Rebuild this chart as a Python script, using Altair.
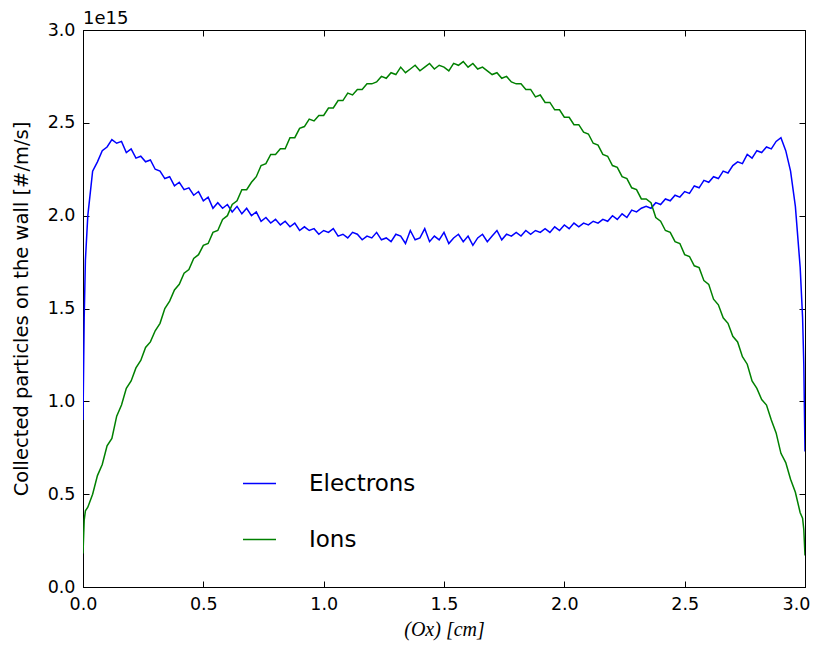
import altair as alt
import pandas as pd

# sampling positions along the wall (cm)
x = [0.0, 0.005, 0.01, 0.02, 0.04, 0.06, 0.08, 0.10, 0.12, 0.14, 0.16, 0.18,
     0.20, 0.22, 0.24, 0.26, 0.28, 0.30, 0.32, 0.34, 0.36, 0.38,
     0.40, 0.42, 0.44, 0.46, 0.48, 0.50, 0.52, 0.54, 0.56, 0.58,
     0.60, 0.62, 0.64, 0.66, 0.68, 0.70, 0.72, 0.74, 0.76, 0.78,
     0.80, 0.82, 0.84, 0.86, 0.88, 0.90, 0.92, 0.94, 0.96, 0.98,
     1.00, 1.02, 1.04, 1.06, 1.08, 1.10, 1.12, 1.14, 1.16, 1.18,
     1.20, 1.22, 1.24, 1.26, 1.28, 1.30, 1.32, 1.34, 1.36, 1.38,
     1.40, 1.42, 1.44, 1.46, 1.48, 1.50, 1.52, 1.54, 1.56, 1.58,
     1.60, 1.62, 1.64, 1.66, 1.68, 1.70, 1.72, 1.74, 1.76, 1.78,
     1.80, 1.82, 1.84, 1.86, 1.88, 1.90, 1.92, 1.94, 1.96, 1.98,
     2.00, 2.02, 2.04, 2.06, 2.08, 2.10, 2.12, 2.14, 2.16, 2.18,
     2.20, 2.22, 2.24, 2.26, 2.28, 2.30, 2.32, 2.34, 2.36, 2.38,
     2.40, 2.42, 2.44, 2.46, 2.48, 2.50, 2.52, 2.54, 2.56, 2.58,
     2.60, 2.62, 2.64, 2.66, 2.68, 2.70, 2.72, 2.74, 2.76, 2.78,
     2.80, 2.82, 2.84, 2.86, 2.88, 2.90, 2.92, 2.94, 2.96, 2.98,
     2.99, 2.995, 3.00]

# collected particles (units of 1e15 #/m/s)
electrons = [0.90, 1.45, 1.76, 2.00, 2.24, 2.29, 2.35, 2.37, 2.41, 2.39, 2.40, 2.34,
             2.36, 2.31, 2.32, 2.29, 2.30, 2.25, 2.24, 2.20, 2.21, 2.16,
             2.18, 2.14, 2.15, 2.11, 2.13, 2.08, 2.10, 2.04, 2.07, 2.04,
             2.06, 2.02, 2.05, 2.01, 2.04, 2.00, 2.02, 1.97, 1.99, 1.96,
             1.98, 1.95, 1.97, 1.94, 1.96, 1.92, 1.94, 1.92, 1.93, 1.90,
             1.92, 1.91, 1.93, 1.89, 1.90, 1.88, 1.91, 1.90, 1.87, 1.89,
             1.88, 1.91, 1.87, 1.88, 1.86, 1.90, 1.89, 1.85, 1.92, 1.87,
             1.88, 1.93, 1.86, 1.89, 1.87, 1.91, 1.85, 1.88, 1.90, 1.86,
             1.89, 1.84, 1.88, 1.90, 1.86, 1.89, 1.92, 1.87, 1.90, 1.89,
             1.91, 1.89, 1.92, 1.90, 1.92, 1.91, 1.93, 1.91, 1.94, 1.92,
             1.95, 1.93, 1.96, 1.94, 1.96, 1.95, 1.97, 1.96, 1.98, 1.97,
             2.00, 1.98, 2.01, 1.99, 2.03, 2.02, 2.04, 2.05, 2.04, 2.07,
             2.06, 2.09, 2.08, 2.11, 2.10, 2.13, 2.12, 2.16, 2.15, 2.19,
             2.18, 2.21, 2.20, 2.24, 2.23, 2.27, 2.29, 2.28, 2.33, 2.31,
             2.35, 2.34, 2.37, 2.36, 2.40, 2.42, 2.35, 2.24, 2.05, 1.72,
             1.45, 1.20, 0.73]

ions = [0.18, 0.36, 0.41, 0.43, 0.50, 0.60, 0.66, 0.76, 0.80, 0.92, 0.98, 1.07,
        1.11, 1.18, 1.22, 1.29, 1.32, 1.38, 1.42, 1.50, 1.54, 1.60,
        1.63, 1.69, 1.71, 1.77, 1.79, 1.84, 1.85, 1.91, 1.92, 1.98,
        2.00, 2.06, 2.08, 2.14, 2.14, 2.18, 2.21, 2.27, 2.28, 2.33,
        2.33, 2.36, 2.36, 2.42, 2.42, 2.47, 2.48, 2.52, 2.51, 2.54,
        2.54, 2.58, 2.58, 2.62, 2.62, 2.66, 2.65, 2.68, 2.68, 2.71,
        2.71, 2.72, 2.75, 2.74, 2.77, 2.76, 2.80, 2.77, 2.79, 2.81,
        2.78, 2.80, 2.82, 2.79, 2.81, 2.80, 2.78, 2.82, 2.81, 2.83,
        2.80, 2.82, 2.79, 2.80, 2.78, 2.76, 2.77, 2.74, 2.75, 2.72,
        2.71, 2.71, 2.68, 2.68, 2.64, 2.65, 2.61, 2.61, 2.57, 2.57,
        2.53, 2.53, 2.49, 2.49, 2.45, 2.44, 2.39, 2.38, 2.33, 2.32,
        2.27, 2.26, 2.21, 2.20, 2.15, 2.14, 2.09, 2.09, 2.07, 1.99,
        1.97, 1.92, 1.91, 1.86, 1.85, 1.79, 1.78, 1.73, 1.72, 1.65,
        1.63, 1.55, 1.52, 1.45, 1.42, 1.35, 1.32, 1.24, 1.20, 1.11,
        1.07, 1.01, 0.98, 0.90, 0.83, 0.72, 0.67, 0.58, 0.51, 0.40,
        0.37, 0.31, 0.17]

series_names = ["Electrons", "Ions"]
series_colors = ["#0000ff", "#008000"]
x_ticks = [0.0, 0.5, 1.0, 1.5, 2.0, 2.5, 3.0]
y_ticks = [0.0, 0.5, 1.0, 1.5, 2.0, 2.5, 3.0]

n = len(x)
df = pd.DataFrame({
    "x": x + x,
    "y": electrons + ions,
    "species": [series_names[0]] * n + [series_names[1]] * n,
})

W, H = 722, 557
xs = alt.Scale(domain=[0, 3], nice=False, zero=False)
ys = alt.Scale(domain=[0, 3], nice=False, zero=False)

lines = alt.Chart(df).mark_line(strokeWidth=1.5, clip=True).encode(
    x=alt.X("x:Q", scale=xs, axis=alt.Axis(
        values=x_ticks, format=".1f", title="(Ox) [cm]", tickSize=0,
        labelPadding=8, titlePadding=7, titleFont="Liberation Serif",
        titleFontStyle="italic", titleFontSize=20, titleFontWeight="normal",
        labelFlush=False, grid=False,
        labelOffset=alt.condition("datum.value >= 3", alt.value(-9), alt.value(0)))),
    y=alt.Y("y:Q", scale=ys, axis=alt.Axis(
        values=y_ticks, format=".1f", title="Collected particles on the wall [#/m/s]",
        tickSize=0, labelPadding=8, titlePadding=16, titleFont="DejaVu Sans",
        titleFontSize=19.5, titleFontWeight="normal", labelFlush=False, grid=False)),
    color=alt.Color("species:N", scale=alt.Scale(domain=series_names, range=series_colors),
                    legend=alt.Legend(title=None, orient="none", legendX=159, legendY=436,
                                      symbolType="stroke", symbolSize=1089,
                                      symbolStrokeWidth=1.5, labelFont="DejaVu Sans",
                                      labelFontSize=23, labelOffset=32, rowPadding=26,
                                      labelColor="black")),
)

tick_axis = dict(labels=False, domain=False, title=None, grid=False,
                 tickSize=6, tickColor="black", tickWidth=1)

inner_a = alt.Chart(df).mark_point(opacity=0, size=1).encode(
    x=alt.X("x:Q", scale=xs, axis=alt.Axis(values=x_ticks, orient="top", offset=-H, **tick_axis)),
    y=alt.Y("y:Q", scale=ys, axis=alt.Axis(values=y_ticks, orient="right", offset=-W, **tick_axis)),
)
inner_b = alt.Chart(df).mark_point(opacity=0, size=1).encode(
    x=alt.X("x:Q", scale=xs, axis=alt.Axis(values=x_ticks, orient="bottom", offset=-H, **tick_axis)),
    y=alt.Y("y:Q", scale=ys, axis=alt.Axis(values=y_ticks, orient="left", offset=-W, **tick_axis)),
)

chart = alt.layer(lines, inner_a, inner_b).resolve_axis(
    x="independent", y="independent"
).properties(
    width=W, height=H,
    autosize=alt.AutoSizeParams(type="none"),
    padding={"left": 75, "top": 22, "right": 5, "bottom": 55},
    title=alt.Title("1e15", anchor="start", frame="group", font="DejaVu Sans",
                    fontSize=18, fontWeight="normal", offset=5, dy=12, color="black"),
).configure_view(
    stroke="black", strokeWidth=1
).configure_axis(
    domainColor="black", domainWidth=1, labelFont="DejaVu Sans", labelFontSize=17.5,
    labelColor="black", titleColor="black"
)

chart.save("out.html", embed_options={"renderer": "svg", "actions": False})
